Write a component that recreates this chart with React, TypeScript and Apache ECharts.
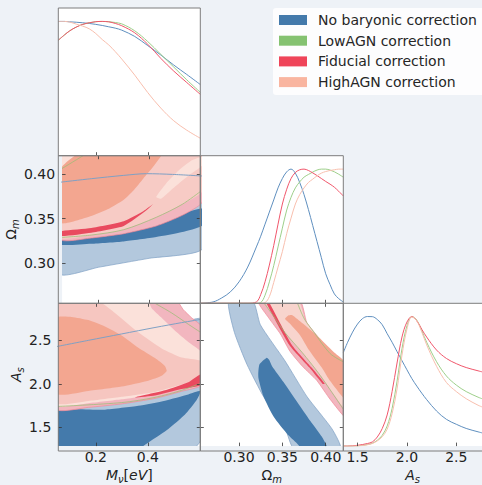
import React, { useEffect, useRef } from 'react';
import * as echarts from 'echarts';

const FONT = 'DejaVu Sans';
const NAMES = ['No baryonic correction', 'LowAGN correction', 'Fiducial correction', 'HighAGN correction'];
const LEGEND_COLORS = ['#447aab', '#85c271', '#ef4459', '#f9b5a0'];
const LINE_COLORS = ['#5f8fbf', '#9dcf8a', '#f0566b', '#f8bfae'];

// axis ranges and ticks
const MNU_RANGE = [0.056, 0.602];
const OM_RANGE = [0.2553, 0.4203];
const AS_RANGE_Y = [1.286, 2.927];
const AS_RANGE_X = [1.356, 2.76];
const PDF_RANGE = [0, 1.1];
const MNU_TICKS = [0.2, 0.4];
const OM_TICKS = [0.3, 0.35, 0.4];
const AS_TICKS = [1.5, 2.0, 2.5];

// 1D marginals: M_nu
const mnuGrid = [0.056, 0.08, 0.1, 0.125, 0.15, 0.175, 0.2, 0.225, 0.25, 0.275, 0.3, 0.35, 0.4, 0.45, 0.5, 0.55, 0.602];
const mnuNoBaryon = [1.0, 1.0, 0.997, 0.994, 0.99, 0.985, 0.978, 0.97, 0.96, 0.95, 0.935, 0.888, 0.82, 0.75, 0.675, 0.605, 0.53];
const mnuLowAGN = [0.86, 0.9, 0.93, 0.958, 0.978, 0.99, 0.998, 1.0, 0.998, 0.992, 0.982, 0.93, 0.85, 0.755, 0.66, 0.565, 0.472];
const mnuFiducial = [0.86, 0.9, 0.93, 0.958, 0.978, 0.99, 0.998, 1.0, 0.997, 0.985, 0.968, 0.915, 0.83, 0.725, 0.63, 0.545, 0.457];
const mnuHighAGN = [1.0, 1.0, 0.995, 0.98, 0.965, 0.945, 0.91, 0.865, 0.825, 0.775, 0.72, 0.6, 0.47, 0.355, 0.26, 0.19, 0.13];

// 1D marginals: Omega_m
const omGrid = [0.2553, 0.27, 0.28, 0.29, 0.3, 0.31, 0.32, 0.325, 0.33, 0.335, 0.34, 0.345, 0.35, 0.355, 0.36, 0.365, 0.37, 0.375, 0.38, 0.385, 0.39, 0.395, 0.4, 0.405, 0.41, 0.415, 0.4203];
const omNoBaryon = [0.0, 0.01, 0.04, 0.085, 0.16, 0.27, 0.42, 0.5, 0.59, 0.68, 0.77, 0.86, 0.93, 0.98, 1.0, 0.97, 0.9, 0.81, 0.7, 0.58, 0.46, 0.34, 0.22, 0.14, 0.07, 0.035, 0.01];
const omLowAGN = [0, 0, 0, 0, 0, 0, 0, 0.005, 0.06, 0.16, 0.28, 0.42, 0.56, 0.695, 0.79, 0.86, 0.905, 0.94, 0.96, 0.978, 0.993, 1.0, 1.0, 0.993, 0.98, 0.962, 0.94];
const omFiducial = [0, 0, 0, 0, 0, 0, 0.01, 0.065, 0.16, 0.285, 0.43, 0.59, 0.74, 0.85, 0.93, 0.975, 0.995, 1.0, 0.99, 0.972, 0.952, 0.93, 0.908, 0.888, 0.865, 0.835, 0.8];
const omHighAGN = [0, 0, 0, 0, 0, 0, 0, 0, 0.005, 0.05, 0.155, 0.27, 0.385, 0.52, 0.635, 0.74, 0.81, 0.86, 0.9, 0.925, 0.95, 0.97, 0.982, 0.99, 0.995, 1.0, 1.0];

// 1D marginals: A_s
const asGrid = [1.356, 1.4, 1.45, 1.5, 1.55, 1.6, 1.65, 1.7, 1.75, 1.8, 1.85, 1.9, 1.95, 2.0, 2.05, 2.1, 2.15, 2.2, 2.3, 2.4, 2.5, 2.6, 2.72, 2.76];
const asNoBaryon = [0.72, 0.8, 0.878, 0.94, 0.982, 0.998, 0.997, 0.975, 0.935, 0.866, 0.8, 0.728, 0.658, 0.588, 0.52, 0.462, 0.408, 0.358, 0.27, 0.206, 0.168, 0.136, 0.11, 0.102];
const asLowAGN = [0, 0, 0, 0.002, 0.006, 0.012, 0.022, 0.045, 0.083, 0.155, 0.29, 0.5, 0.75, 0.925, 0.998, 0.97, 0.89, 0.8, 0.65, 0.54, 0.47, 0.42, 0.377, 0.365];
const asFiducial = [0, 0, 0.002, 0.006, 0.012, 0.02, 0.032, 0.07, 0.135, 0.24, 0.42, 0.64, 0.84, 0.955, 0.998, 0.965, 0.9, 0.84, 0.74, 0.675, 0.635, 0.605, 0.58, 0.572];
const asHighAGN = [0, 0, 0, 0.001, 0.004, 0.01, 0.02, 0.04, 0.072, 0.13, 0.25, 0.44, 0.7, 0.9, 0.995, 0.965, 0.88, 0.78, 0.615, 0.49, 0.42, 0.365, 0.315, 0.302];

// 2D contours: (M_nu, Omega_m)
const mnuOmNoBaryon2s = [[0.05, 0.2881], [0.2, 0.2956], [0.4, 0.3056], [0.61, 0.3160], [0.61, 0.3976], [0.4919, 0.3994], [0.3893, 0.4002], [0.2996, 0.3983], [0.1714, 0.3946], [0.05, 0.3907]];
const mnuOmNoBaryon1s = [[0.05, 0.3208], [0.1714, 0.3219], [0.2996, 0.3245], [0.4278, 0.3294], [0.5304, 0.335], [0.61, 0.3424], [0.61, 0.3611], [0.5304, 0.3555], [0.4278, 0.348], [0.2996, 0.3394], [0.1714, 0.3342], [0.05, 0.3305]];
const mnuOmFiducial2s = [[0.05, 0.3268], [0.1714, 0.3283], [0.2996, 0.3331], [0.4278, 0.3417], [0.5304, 0.3536], [0.61, 0.3685], [0.61, 0.425], [0.139, 0.425], [0.05, 0.4054]];
const mnuOmHighAGN2s = [[0.05, 0.329], [0.1714, 0.3316], [0.2996, 0.3376], [0.4278, 0.3514], [0.5304, 0.3659], [0.61, 0.3804], [0.61, 0.425], [0.05, 0.425]];
const mnuOmHighOnly = [[0.05, 0.425], [0.145, 0.425], [0.05, 0.4054]];
const mnuOmHighAGNOuter = [[0.4278, 0.3741], [0.4663, 0.389], [0.5175, 0.4039], [0.5688, 0.4151], [0.61, 0.4188], [0.61, 0.4095], [0.556, 0.3983], [0.4919, 0.3834], [0.447, 0.3722]];
const mnuOmHighAGN1s = [[0.05, 0.3454], [0.1714, 0.3529], [0.2355, 0.3603], [0.2996, 0.3711], [0.3381, 0.3815], [0.3765, 0.3946], [0.415, 0.4076], [0.4534, 0.425], [0.139, 0.425], [0.05, 0.4054]];
const mnuOmFiducial1s = [[0.05, 0.3357], [0.1714, 0.3394], [0.2996, 0.3469], [0.3765, 0.3581], [0.415, 0.3659], [0.3893, 0.3592], [0.2996, 0.3417], [0.1714, 0.3342], [0.05, 0.3305]];
const mnuOmLowAGNLower = [[0.056, 0.329], [0.1714, 0.3316], [0.2996, 0.3376], [0.4278, 0.3514], [0.5304, 0.3659], [0.603, 0.3804]];
const mnuOmLowAGNUpper = [[0.056, 0.406], [0.139, 0.4203]];

// 2D contours: (M_nu, A_s)
const mnuAsNoBaryon2s = [[0.05, 2.43], [0.1714, 2.501], [0.2996, 2.575], [0.4278, 2.649], [0.5304, 2.705], [0.61, 2.745], [0.61, 1.39], [0.5752, 1.26], [0.05, 1.26]];
const mnuAsNoBaryon1s = [[0.05, 1.686], [0.2355, 1.705], [0.3637, 1.749], [0.4663, 1.808], [0.556, 1.879], [0.603, 1.92], [0.5881, 1.816], [0.5432, 1.649], [0.4791, 1.483], [0.415, 1.353], [0.3637, 1.26], [0.05, 1.26]];
const mnuAsFiducial2s = [[0.05, 1.712], [0.1714, 1.731], [0.2996, 1.771], [0.4278, 1.834], [0.5304, 1.916], [0.61, 1.994], [0.61, 2.649], [0.5688, 2.76], [0.5368, 2.853], [0.5111, 2.95], [0.05, 2.95]];
const mnuAsHighAGN2s = [[0.05, 1.76], [0.1714, 1.779], [0.2996, 1.823], [0.4278, 1.883], [0.5304, 1.971], [0.61, 2.038], [0.61, 2.353], [0.556, 2.483], [0.5047, 2.612], [0.4534, 2.76], [0.415, 2.871], [0.3996, 2.95], [0.05, 2.95]];
const mnuAsOverlap = [[0.05, 2.95], [0.2098, 2.95], [0.274, 2.816], [0.3637, 2.594], [0.4534, 2.409], [0.5304, 2.305], [0.61, 2.26], [0.61, 2.057], [0.5304, 1.994], [0.4278, 1.909], [0.2996, 1.853], [0.1714, 1.805], [0.05, 1.786]];
const mnuAsHighAGN1s = [[0.05, 2.76], [0.1073, 2.771], [0.1714, 2.734], [0.2355, 2.66], [0.2996, 2.557], [0.3637, 2.416], [0.4278, 2.297], [0.4663, 2.205], [0.4727, 2.149], [0.4534, 2.094], [0.4022, 2.038], [0.2996, 1.971], [0.1714, 1.92], [0.05, 1.89]];
const mnuAsFiducial1s = [[0.3509, 1.846], [0.4663, 1.927], [0.556, 2.02], [0.61, 2.12], [0.61, 1.994], [0.5304, 1.942], [0.4278, 1.868]];
const mnuAsLowAGNLower = [[0.056, 1.742], [0.2996, 1.786], [0.4278, 1.846], [0.5304, 1.927], [0.603, 2.008]];
const mnuAsLowAGNUpper = [[0.4278, 2.927], [0.4919, 2.816], [0.556, 2.686], [0.603, 2.594]];

// 2D contours: (Omega_m, A_s)
const omAsNoBaryon2s = [[0.288, 2.95], [0.2946, 2.594], [0.3092, 2.223], [0.3284, 1.853], [0.3535, 1.483], [0.3631, 1.26], [0.417, 1.26], [0.4073, 1.483], [0.3785, 1.853], [0.3531, 2.264], [0.3246, 2.68], [0.3161, 2.95]];
const omAsNoBaryon1s = [[0.3235, 2.223], [0.3319, 2.301], [0.3345, 2.28], [0.3381, 2.205], [0.3515, 2.02], [0.3669, 1.797], [0.3823, 1.575], [0.3958, 1.39], [0.4016, 1.26], [0.3727, 1.26], [0.3669, 1.316], [0.3554, 1.427], [0.34, 1.623], [0.3284, 1.853], [0.3223, 2.075]];
const omAsFiducial2s = [[0.3223, 2.95], [0.3342, 2.76], [0.3477, 2.575], [0.3588, 2.375], [0.3734, 2.2], [0.3896, 2.042], [0.4054, 1.82], [0.425, 1.6], [0.425, 2.2], [0.4089, 2.301], [0.3896, 2.56], [0.3781, 2.708], [0.3704, 2.95]];
const omAsHighAGN2s = [[0.3305, 2.95], [0.3419, 2.76], [0.354, 2.58], [0.3746, 2.34], [0.3939, 2.1], [0.425, 1.69], [0.425, 2.24], [0.407, 2.33], [0.3875, 2.585], [0.3765, 2.73], [0.3685, 2.95]];
const omAsHighAGN1s = [[0.3531, 2.75], [0.3565, 2.785], [0.3615, 2.79], [0.3704, 2.72], [0.3896, 2.56], [0.4089, 2.37], [0.425, 2.22], [0.425, 1.8], [0.4054, 2.03], [0.3954, 2.19], [0.38, 2.4], [0.3704, 2.56], [0.358, 2.7]];
const omAsFiducial1s = [[0.3305, 2.95], [0.334, 2.95], [0.361, 2.449], [0.384, 2.186], [0.399, 2.001], [0.3965, 2.001], [0.3815, 2.186], [0.358, 2.449]];
const omAsLowAGNLower = [[0.329, 2.927], [0.3405, 2.77], [0.353, 2.59], [0.373, 2.36], [0.392, 2.12], [0.4203, 1.71]];
const omAsLowAGNUpper = [[0.3675, 2.927], [0.3755, 2.745], [0.386, 2.6], [0.405, 2.35], [0.4203, 2.255]];

const C = {
  blue1: '#447aab', blue2: '#b3c8dd', blueEdge: '#7fa0c4',
  red1: '#e94a5f', red2: '#f2b6bf', redEdge: '#f08a98',
  high1: '#f3a690', high2: '#f7cbc5', highMid: '#f6c6c0', highLight: '#fbe1da', highBand: '#f8d4cd',
  greenEdge: 'rgba(150,190,115,0.9)',
};

// panel layout (pixels)
const GRIDS = [
  { left: 58.3, top: 8, width: 142, height: 147.7 },
  { left: 58.3, top: 155.7, width: 142, height: 147.6 },
  { left: 200.3, top: 155.7, width: 143, height: 147.6 },
  { left: 58.3, top: 303.3, width: 142, height: 147.7 },
  { left: 200.3, top: 303.3, width: 143, height: 147.7 },
  { left: 343.3, top: 303.3, width: 143, height: 147.7 },
];

const RICH = {
  i: { fontFamily: FONT, fontSize: 14, fontStyle: 'italic', color: '#222', lineHeight: 16 },
  u: { fontFamily: FONT, fontSize: 14, color: '#222', lineHeight: 16 },
  s: { fontFamily: FONT, fontSize: 10, fontStyle: 'italic', color: '#222', lineHeight: 10, padding: [9, 0, 0, 0] },
};

function axis(gridIndex: number, range: number[], ticks: number[] | null, o: any = {}) {
  const a: any = {
    type: 'value', gridIndex, min: range[0], max: range[1], z: 10,
    show: o.show !== false,
    position: o.position,
    axisLine: { show: false },
    splitLine: { show: false },
    axisTick: { show: !!ticks, inside: true, length: 3.5, customValues: ticks || [], lineStyle: { color: '#333', width: 0.8 } },
    axisLabel: {
      show: !!o.labels, customValues: ticks || [], fontSize: 14, fontFamily: FONT, color: '#222', margin: o.margin ?? 4,
      formatter: (v: number) => v.toFixed(o.dec ?? 1),
    },
  };
  if (o.name) {
    a.name = o.name;
    a.nameLocation = 'middle';
    a.nameGap = o.nameGap;
    a.nameRotate = o.nameRotate;
    a.nameTextStyle = { fontFamily: FONT, fontSize: 14, color: '#222', rich: RICH };
  }
  return a;
}

function poly(ai: number, pts: number[][], fill: string, stroke?: string) {
  return {
    type: 'custom', xAxisIndex: ai, yAxisIndex: ai, clip: true, silent: true,
    encode: { x: 0, y: 1 },
    data: pts,
    renderItem: (params: any, api: any) => {
      if (params.dataIndex !== 0) return null;
      const points = pts.map((p) => api.coord(p));
      return {
        type: 'polygon',
        shape: { points, smooth: 0.18 },
        style: { fill, stroke: stroke || 'none', lineWidth: 0.7 },
      };
    },
  };
}

function edge(ai: number, pts: number[][], color: string, width = 0.8) {
  return {
    type: 'line', xAxisIndex: ai, yAxisIndex: ai, data: pts, smooth: 0.3, showSymbol: false, symbol: 'none',
    silent: true, clip: true, lineStyle: { color, width }, itemStyle: { color },
  };
}

function curve(ai: number, xs: number[], ys: number[], color: string, name?: string) {
  return {
    type: 'line', name, xAxisIndex: ai, yAxisIndex: ai, data: xs.map((x, i) => [x, ys[i]]),
    smooth: 0.35, showSymbol: false, symbol: 'none', silent: true, clip: true,
    lineStyle: { color, width: 1 }, itemStyle: { color: LEGEND_COLORS[NAMES.indexOf(name as string)] || color },
  };
}

function buildOption() {
  const xAxis = [
    axis(0, MNU_RANGE, MNU_TICKS),
    axis(1, MNU_RANGE, MNU_TICKS),
    axis(2, OM_RANGE, OM_TICKS),
    axis(3, MNU_RANGE, MNU_TICKS, { labels: true, dec: 1, name: '{i|M}{s|ν}{u|[}{i|eV}{u|]}', nameGap: 19 }),
    axis(4, OM_RANGE, OM_TICKS, { labels: true, dec: 2, name: '{u|Ω}{s|m}', nameGap: 19 }),
    axis(5, AS_RANGE_X, AS_TICKS, { labels: true, dec: 1, name: '{i|A}{s|s}', nameGap: 19 }),
    axis(1, MNU_RANGE, MNU_TICKS, { position: 'top' }),
    axis(3, MNU_RANGE, MNU_TICKS, { position: 'top' }),
    axis(4, OM_RANGE, OM_TICKS, { position: 'top' }),
  ];
  const yAxis = [
    axis(0, PDF_RANGE, null, { show: false }),
    axis(1, OM_RANGE, OM_TICKS, { labels: true, dec: 2, margin: 7, name: '{u|Ω}{s|m}', nameGap: 40, nameRotate: 90 }),
    axis(2, PDF_RANGE, null, { show: false }),
    axis(3, AS_RANGE_Y, AS_TICKS, { labels: true, dec: 1, margin: 7, name: '{i|A}{s|s}', nameGap: 28, nameRotate: 90 }),
    axis(4, AS_RANGE_Y, AS_TICKS),
    axis(5, PDF_RANGE, null, { show: false }),
    axis(1, OM_RANGE, OM_TICKS, { position: 'right' }),
    axis(3, AS_RANGE_Y, AS_TICKS, { position: 'right' }),
    axis(4, AS_RANGE_Y, AS_TICKS, { position: 'right' }),
  ];

  const series: any[] = [
    // diagonal: M_nu
    curve(0, mnuGrid, mnuNoBaryon, LINE_COLORS[0], NAMES[0]),
    curve(0, mnuGrid, mnuLowAGN, LINE_COLORS[1], NAMES[1]),
    curve(0, mnuGrid, mnuFiducial, LINE_COLORS[2], NAMES[2]),
    curve(0, mnuGrid, mnuHighAGN, LINE_COLORS[3], NAMES[3]),
    // diagonal: Omega_m
    curve(2, omGrid, omNoBaryon, LINE_COLORS[0]),
    curve(2, omGrid, omLowAGN, LINE_COLORS[1]),
    curve(2, omGrid, omFiducial, LINE_COLORS[2]),
    curve(2, omGrid, omHighAGN, LINE_COLORS[3]),
    // diagonal: A_s
    curve(5, asGrid, asNoBaryon, LINE_COLORS[0]),
    curve(5, asGrid, asLowAGN, LINE_COLORS[1]),
    curve(5, asGrid, asFiducial, LINE_COLORS[2]),
    curve(5, asGrid, asHighAGN, LINE_COLORS[3]),

    // M_nu - Omega_m
    poly(1, mnuOmNoBaryon2s, C.blue2, C.blueEdge),
    poly(1, mnuOmNoBaryon1s, C.blue1),
    poly(1, mnuOmFiducial2s, C.red2, C.redEdge),
    poly(1, mnuOmHighAGN2s, C.high2),
    poly(1, mnuOmHighOnly, C.highLight),
    poly(1, mnuOmHighAGNOuter, C.highLight),
    poly(1, mnuOmHighAGN1s, C.high1),
    poly(1, mnuOmFiducial1s, C.red1),
    edge(1, mnuOmLowAGNLower, C.greenEdge),
    edge(1, mnuOmLowAGNUpper, C.greenEdge),
    edge(1, mnuOmNoBaryon2s.slice(4), C.blueEdge, 1),

    // M_nu - A_s
    poly(3, mnuAsNoBaryon2s, C.blue2, C.blueEdge),
    poly(3, mnuAsNoBaryon1s, C.blue1),
    poly(3, mnuAsFiducial2s, C.red2, C.redEdge),
    poly(3, mnuAsHighAGN2s, C.highLight),
    poly(3, mnuAsOverlap, C.highMid),
    poly(3, mnuAsHighAGN1s, C.high1),
    poly(3, mnuAsFiducial1s, C.red1),
    edge(3, mnuAsLowAGNLower, C.greenEdge),
    edge(3, mnuAsLowAGNUpper, C.greenEdge),
    edge(3, mnuAsNoBaryon2s.slice(0, 6), C.blueEdge, 1),

    // Omega_m - A_s
    poly(4, omAsNoBaryon2s, C.blue2, C.blueEdge),
    poly(4, omAsNoBaryon1s, C.blue1),
    poly(4, omAsFiducial2s, C.red2, C.redEdge),
    poly(4, omAsHighAGN2s, C.highBand),
    poly(4, omAsHighAGN1s, C.high1),
    poly(4, omAsFiducial1s, C.red1),
    edge(4, omAsLowAGNLower, C.greenEdge),
    edge(4, omAsLowAGNUpper, C.greenEdge),
  ];

  const frames = GRIDS.map((g) => ({
    type: 'rect', z: 100, silent: true,
    shape: { x: g.left, y: g.top, width: g.width, height: g.height },
    style: { fill: 'none', stroke: '#7d7d7d', lineWidth: 1 },
  }));

  return {
    animation: false,
    backgroundColor: '#eef2f7',
    grid: GRIDS.map((g) => ({ ...g, show: true, backgroundColor: '#ffffff', borderWidth: 0, containLabel: false })),
    xAxis,
    yAxis,
    series,
    graphic: frames,
    legend: {
      orient: 'vertical', left: 273, top: 8, padding: [5, 8, 6, 6],
      itemWidth: 28, itemHeight: 10, itemGap: 6.7, icon: 'rect', selectedMode: false,
      backgroundColor: 'rgba(255,255,255,0.85)', borderRadius: 3,
      textStyle: { fontFamily: FONT, fontSize: 14, color: '#262626', lineHeight: 14, padding: [0, 0, 0, 6] },
      data: NAMES.map((n, i) => ({ name: n, itemStyle: { color: LEGEND_COLORS[i], borderWidth: 0 } })),
    },
  };
}

export default function App() {
  const ref = useRef<HTMLDivElement>(null);
  useEffect(() => {
    if (!ref.current) return;
    const chart = echarts.init(ref.current, undefined, { renderer: 'svg' });
    chart.setOption(buildOption() as any);
    return () => chart.dispose();
  }, []);
  return (
    <div
      ref={ref}
      style={{ position: 'fixed', left: 0, top: 0, width: 482, height: 485, background: '#eef2f7' }}
    />
  );
}
